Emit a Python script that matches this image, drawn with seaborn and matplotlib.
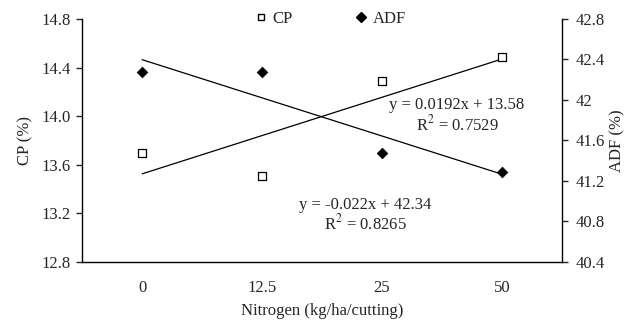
import numpy as np
import pandas as pd
import matplotlib
matplotlib.use("Agg")
import matplotlib.pyplot as plt
import seaborn as sns
from matplotlib.lines import Line2D

categories = ["0", "12.5", "25", "50"]
cp_values = [13.70, 13.51, 14.29, 14.49]
adf_values = [42.28, 42.28, 41.48, 41.29]
cp_eq = "y = 0.0192x + 13.58"
cp_r2 = "R$^2$ = 0.7529"
adf_eq = "y = -0.022x + 42.34"
adf_r2 = "R$^2$ = 0.8265"
left_ticks = [12.8, 13.2, 13.6, 14.0, 14.4, 14.8]
right_ticks = [40.4, 40.8, 41.2, 41.6, 42.0, 42.4, 42.8]
right_labels = ["40.4", "40.8", "41.2", "41.6", "42", "42.4", "42.8"]

sns.set_style("white")
plt.rcParams['font.family'] = ['Liberation Serif', 'DejaVu Serif']
plt.rcParams['mathtext.fontset'] = 'stix'

FS = 12
df = pd.DataFrame({"pos": np.arange(len(categories)), "cp": cp_values, "adf": adf_values})

fig = plt.figure(figsize=(6.27, 3.27), dpi=100)
ax = fig.add_axes([0.131, 0.199, 0.765, 0.743])
ax2 = ax.twinx()

sns.regplot(data=df, x="pos", y="cp", ax=ax, scatter=False, ci=None, truncate=True,
            line_kws=dict(color="black", lw=0.9))
sns.scatterplot(data=df, x="pos", y="cp", ax=ax, marker="s", s=30, facecolor="white",
                edgecolor="black", linewidth=0.9, zorder=5)
sns.regplot(data=df, x="pos", y="adf", ax=ax2, scatter=False, ci=None, truncate=True,
            line_kws=dict(color="black", lw=0.9))
sns.scatterplot(data=df, x="pos", y="adf", ax=ax2, marker="D", s=30, color="black",
                edgecolor="black", zorder=5)

ax.set_xlim(-0.5, 3.5)
ax.set_ylim(12.8, 14.8)
ax2.set_ylim(40.4, 42.8)
ax.set_yticks(left_ticks)
ax.set_yticklabels([f"{v:.1f}" for v in left_ticks])
ax2.set_yticks(right_ticks)
ax2.set_yticklabels(right_labels)
ax.set_xticks(df["pos"])
ax.set_xticklabels(categories)
ax.set_xticks(np.arange(-0.5, 3.6, 1.0), minor=True)
ax.tick_params(axis="x", which="major", length=0, pad=13, labelsize=FS)
ax.tick_params(axis="x", which="minor", direction="in", length=4, width=1)
ax.tick_params(axis="y", direction="out", length=4, width=1, labelsize=FS, left=True, pad=4)
ax2.tick_params(axis="y", direction="out", length=4, width=1, labelsize=FS, right=True, pad=6)

for a in (ax, ax2):
    a.spines["top"].set_visible(False)
    for s in ("left", "right", "bottom"):
        a.spines[s].set_color("black")
        a.spines[s].set_linewidth(1)
ax.spines["right"].set_visible(False)
ax2.spines["left"].set_visible(False)
ax2.spines["bottom"].set_visible(False)

ax.set_xlabel("Nitrogen (kg/ha/cutting)", fontsize=FS, labelpad=5)
ax.set_ylabel("CP (%)", fontsize=FS, labelpad=6)
ax2.set_ylabel("ADF (%)", fontsize=FS, labelpad=3)

ax.text(2.625, 14.09, cp_eq, ha="center", va="center", fontsize=FS)
ax.text(2.625, 13.935, cp_r2, ha="center", va="center", fontsize=FS)
ax.text(1.86, 13.27, adf_eq, ha="center", va="center", fontsize=FS)
ax.text(1.86, 13.115, adf_r2, ha="center", va="center", fontsize=FS)

handles = [Line2D([], [], marker="s", ls="", markerfacecolor="white", markeredgecolor="black", markersize=5),
           Line2D([], [], marker="D", ls="", color="black", markersize=5)]
ax.legend(handles, ["CP", "ADF"], loc="center", bbox_to_anchor=(0.515, 1.0), ncol=2,
          frameon=False, fontsize=FS, columnspacing=3.6, handletextpad=0.2, handlelength=1)

fig.savefig("out.png", dpi=100)
